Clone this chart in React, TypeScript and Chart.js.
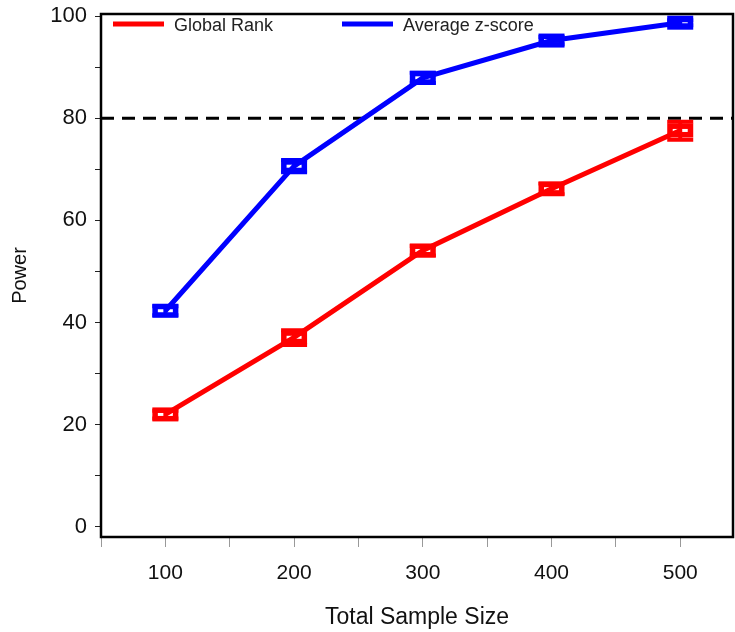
import React, { useEffect, useRef } from "react";
import { Chart, registerables } from "chart.js";

Chart.register(...registerables);

const sampleSizes = [100, 200, 300, 400, 500];
const globalRank = [22.0, 37.1, 54.1, 66.2, 77.6];
const globalRankLow = [21.2, 35.6, 53.1, 65.1, 75.8];
const globalRankHigh = [22.7, 38.5, 55.0, 67.2, 79.3];
const avgZ = [42.3, 70.6, 87.9, 95.2, 98.7];
const avgZLow = [41.4, 69.4, 86.9, 94.5, 98.2];
const avgZHigh = [43.2, 71.8, 88.9, 95.9, 99.2];
const seriesLabels = ["Global Rank", "Average z-score"];
const seriesColors = ["#ff0000", "#0000ff"];
const yTickLabels = [0, 20, 40, 60, 80, 100];
const xTickLabels = [100, 200, 300, 400, 500];
const referencePower = 80;

const FONT = "'Liberation Sans', Arial, sans-serif";

const errorBarPlugin = {
  id: "errorBars",
  afterDatasetsDraw(chart: any) {
    const ctx = chart.ctx;
    const xs = chart.scales.x;
    const ys = chart.scales.y;
    chart.data.datasets.forEach((ds: any) => {
      ctx.save();
      ctx.strokeStyle = ds.borderColor;
      ctx.fillStyle = ds.borderColor;
      ds.data.forEach((p: any, i: number) => {
        const x = xs.getPixelForValue(p.x);
        const y = ys.getPixelForValue(p.y);
        const yl = ys.getPixelForValue(ds.errLow[i]);
        const yh = ys.getPixelForValue(ds.errHigh[i]);
        ctx.lineWidth = 4;
        ctx.beginPath();
        ctx.moveTo(x, yl);
        ctx.lineTo(x, yh);
        ctx.moveTo(x - 13, yl);
        ctx.lineTo(x + 13, yl);
        ctx.moveTo(x - 13, yh);
        ctx.lineTo(x + 13, yh);
        ctx.stroke();
        ctx.lineWidth = 5.5;
        ctx.strokeRect(x - 10.25, y - 4.25, 20.5, 8.5);
      });
      ctx.restore();
    });
  },
};

const framePlugin = {
  id: "frame",
  beforeDatasetsDraw(chart: any) {
    const { ctx, chartArea } = chart;
    const ys = chart.scales.y;
    const y = ys.getPixelForValue(referencePower);
    ctx.save();
    ctx.strokeStyle = "#000";
    ctx.lineWidth = 3;
    ctx.setLineDash([13, 8]);
    ctx.beginPath();
    ctx.moveTo(chartArea.left, y);
    ctx.lineTo(chartArea.right, y);
    ctx.stroke();
    ctx.restore();
  },
  afterDraw(chart: any) {
    const { ctx, chartArea } = chart;
    ctx.save();
    ctx.strokeStyle = "#000";
    ctx.lineWidth = 2.5;
    ctx.strokeRect(chartArea.left, chartArea.top, chartArea.right - chartArea.left, chartArea.bottom - chartArea.top);
    const positions = [chartArea.left + 12, chartArea.left + 241];
    ctx.font = "18px " + FONT;
    ctx.textBaseline = "middle";
    ctx.textAlign = "left";
    chart.data.datasets.forEach((ds: any, i: number) => {
      const lx = positions[i];
      const ly = chartArea.top + 10;
      ctx.strokeStyle = ds.borderColor;
      ctx.lineWidth = 5;
      ctx.beginPath();
      ctx.moveTo(lx, ly);
      ctx.lineTo(lx + 51, ly);
      ctx.stroke();
      ctx.fillStyle = "#222";
      ctx.fillText(ds.label, lx + 61, ly + 2);
    });
    ctx.restore();
  },
};

export default function App() {
  const ref = useRef<HTMLCanvasElement>(null);
  useEffect(() => {
    const chart = new Chart(ref.current!, {
      type: "line",
      data: {
        datasets: [
          {
            label: seriesLabels[0],
            data: sampleSizes.map((x, i) => ({ x, y: globalRank[i] })),
            borderColor: seriesColors[0],
            backgroundColor: seriesColors[0],
            borderWidth: 5,
            pointRadius: 0,
            errLow: globalRankLow,
            errHigh: globalRankHigh,
          } as any,
          {
            label: seriesLabels[1],
            data: sampleSizes.map((x, i) => ({ x, y: avgZ[i] })),
            borderColor: seriesColors[1],
            backgroundColor: seriesColors[1],
            borderWidth: 5,
            pointRadius: 0,
            errLow: avgZLow,
            errHigh: avgZHigh,
          } as any,
        ],
      },
      options: {
        animation: false,
        responsive: false,
        maintainAspectRatio: false,
        layout: { padding: { top: 14, right: 2, left: 0, bottom: 0 } },
        plugins: { legend: { display: false }, tooltip: { enabled: false } },
        scales: {
          x: {
            type: "linear",
            min: 50,
            max: 541,
            afterFit: (s: any) => {
              s.height = 95;
              s.paddingLeft = 0;
              s.paddingRight = 0;
            },
            afterBuildTicks: (s: any) => {
              const t = [];
              for (let v = 50; v <= 500; v += 50) t.push({ value: v });
              s.ticks = t;
            },
            ticks: {
              autoSkip: false,
              maxRotation: 0,
              padding: 14,
              color: "#111",
              font: { size: 21, family: FONT },
              callback: (v: any) => (xTickLabels.includes(v) ? String(v) : ""),
            },
            grid: { drawOnChartArea: false, drawTicks: true, tickLength: 10, color: "#999", lineWidth: 1 },
            border: { display: false },
            title: {
              display: true,
              text: "Total Sample Size",
              color: "#111",
              font: { size: 23, family: FONT },
              padding: { top: 10, bottom: 1 },
            },
          },
          y: {
            type: "linear",
            min: -2,
            max: 100.4,
            afterFit: (s: any) => {
              s.width = 101;
              s.paddingTop = 0;
              s.paddingBottom = 0;
            },
            afterBuildTicks: (s: any) => {
              const t = [];
              for (let v = 0; v <= 100; v += 10) t.push({ value: v });
              s.ticks = t;
            },
            ticks: {
              autoSkip: false,
              padding: 8,
              color: "#111",
              font: { size: 22, family: FONT },
              callback: (v: any) => (yTickLabels.includes(v) ? String(v) : ""),
            },
            grid: { drawOnChartArea: false, drawTicks: true, tickLength: 6, color: "#222", lineWidth: 1 },
            border: { display: false },
            title: {
              display: true,
              text: "Power",
              color: "#111",
              font: { size: 20, family: FONT },
              padding: { top: 8, bottom: 10 },
            },
          },
        },
      },
      plugins: [framePlugin, errorBarPlugin],
    });
    return () => chart.destroy();
  }, []);
  return (
    <div style={{ position: "absolute", left: 0, top: 0, width: 735, height: 632, background: "#fff" }}>
      <canvas ref={ref} width={735} height={632} style={{ width: 735, height: 632, display: "block" }} />
    </div>
  );
}
